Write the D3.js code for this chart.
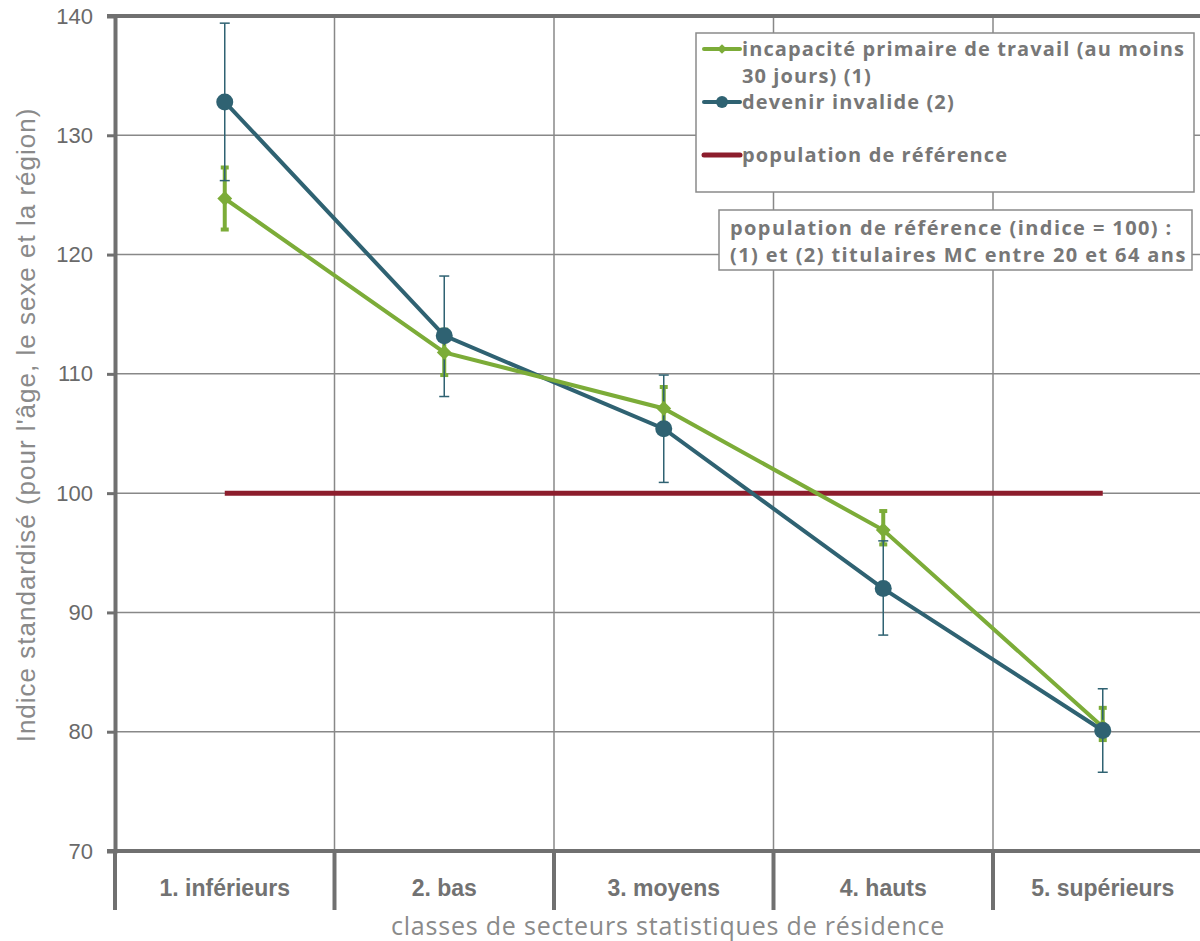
<!DOCTYPE html>
<html>
<head>
<meta charset="utf-8">
<script src="https://cdn.jsdelivr.net/npm/d3@7"></script>
<style>
  body { margin: 0; background: #fff; }
  svg { display: block; }
</style>
</head>
<body>
<div id="chart"></div>
<script>
// categories and values
const categories = ["1. inférieurs", "2. bas", "3. moyens", "4. hauts", "5. supérieurs"];
const incapacite = [124.7, 111.8, 107.1, 96.9, 80.4];
const incapaciteLow = [122.1, 109.9, 105.3, 95.7, 79.3];
const incapaciteHigh = [127.3, 113.7, 108.9, 98.5, 82.0];
const invalide = [132.8, 113.2, 105.4, 92.0, 80.1];
const invalideLow = [126.2, 108.1, 100.9, 88.1, 76.6];
const invalideHigh = [139.4, 118.2, 109.9, 96.0, 83.6];
const reference = [100, 100, 100, 100, 100];
const yTicks = [70, 80, 90, 100, 110, 120, 130, 140];

const width = 1200,
      height = 941,
      margin = ({ top: 16, left: 115, bottom: 90 });

const green = "#7cac38",
      blue = "#2f6272",
      red = "#8c1d2c",
      axisGrey = "#707070",
      textGrey = "#777";

let svg = d3.select("#chart")
    .append("svg")
    .attr("width", width)
    .attr("height", height);

let x = d3.scaleBand()
    .domain(categories)
    .range([margin.left, margin.left + 5 * 219.5]) // right edge runs off the picture
    .padding(0);

let y = d3.scaleLinear()
    .domain([70, 140])
    .range([height - margin.bottom, margin.top]);

const cx = d => x(d) + x.bandwidth() / 2;

// grid
svg.append("g")
    .selectAll("line")
    .data(yTicks.slice(1))
    .join("line")
    .attr("x1", margin.left)
    .attr("x2", width)
    .attr("y1", d => y(d))
    .attr("y2", d => y(d))
    .attr("stroke", "#888")
    .attr("stroke-width", 1.5);

svg.append("g")
    .selectAll("line")
    .data(categories.slice(1))
    .join("line")
    .attr("x1", d => x(d))
    .attr("x2", d => x(d))
    .attr("y1", y(140))
    .attr("y2", y(70))
    .attr("stroke", "#888")
    .attr("stroke-width", 1.5);

// top border
svg.append("line")
    .attr("x1", margin.left - 8).attr("x2", width)
    .attr("y1", y(140)).attr("y2", y(140))
    .attr("stroke", axisGrey).attr("stroke-width", 4);

// y axis
let yAxis = svg.append("g")
    .attr("transform", `translate(${margin.left},0)`)
    .call(d3.axisLeft(y).tickValues(yTicks).tickSize(8).tickPadding(14));
yAxis.select(".domain").attr("stroke", axisGrey).attr("stroke-width", 4);
yAxis.selectAll(".tick line").attr("stroke", axisGrey).attr("stroke-width", 3);
yAxis.selectAll(".tick text")
    .attr("fill", "#6a6a6a")
    .style("font-family", "'Liberation Sans', Arial, sans-serif")
    .style("font-size", "22px");

// x axis: baseline with category dividers
svg.append("line")
    .attr("x1", margin.left - 8).attr("x2", width)
    .attr("y1", y(70)).attr("y2", y(70))
    .attr("stroke", axisGrey).attr("stroke-width", 4);

svg.append("g")
    .selectAll("line")
    .data(categories)
    .join("line")
    .attr("x1", d => x(d))
    .attr("x2", d => x(d))
    .attr("y1", y(70))
    .attr("y2", y(70) + 59)
    .attr("stroke", axisGrey)
    .attr("stroke-width", 4);

svg.append("g")
    .selectAll("text")
    .data(categories)
    .join("text")
    .attr("x", d => cx(d))
    .attr("y", y(70) + 45)
    .attr("text-anchor", "middle")
    .attr("fill", "#727272")
    .style("font-family", "'Liberation Sans', Arial, sans-serif")
    .style("font-weight", "bold")
    .style("font-size", "23px")
    .text(d => d);

// axis titles
svg.append("text")
    .attr("x", 668)
    .attr("y", 935)
    .attr("text-anchor", "middle")
    .attr("fill", "#8a8a8a")
    .style("font-family", "'Open Sans', sans-serif")
    .style("font-size", "25px")
    .style("letter-spacing", "0.8px")
    .text("classes de secteurs statistiques de résidence");

svg.append("text")
    .attr("transform", `translate(35,425) rotate(-90)`)
    .attr("text-anchor", "middle")
    .attr("fill", "#8a8a8a")
    .style("font-family", "'Liberation Sans', Arial, sans-serif")
    .style("font-size", "26px")
    .style("letter-spacing", "1px")
    .text("Indice standardisé (pour l'âge, le sexe et la région)");

// reference line
svg.append("path")
    .datum(reference)
    .attr("fill", "none")
    .attr("stroke", red)
    .attr("stroke-width", 5)
    .attr("d", d3.line().x((d, i) => cx(categories[i])).y(d => y(d)));

// error bars
function errorBars(low, high, color, w, cap) {
    let g = svg.append("g").attr("stroke", color).attr("stroke-width", w);
    g.selectAll(".v").data(categories).join("line")
        .attr("x1", d => cx(d)).attr("x2", d => cx(d))
        .attr("y1", (d, i) => y(low[i])).attr("y2", (d, i) => y(high[i]));
    g.selectAll(".lo").data(categories).join("line")
        .attr("x1", d => cx(d) - cap).attr("x2", d => cx(d) + cap)
        .attr("y1", (d, i) => y(low[i])).attr("y2", (d, i) => y(low[i]));
    g.selectAll(".hi").data(categories).join("line")
        .attr("x1", d => cx(d) - cap).attr("x2", d => cx(d) + cap)
        .attr("y1", (d, i) => y(high[i])).attr("y2", (d, i) => y(high[i]));
}

errorBars(incapaciteLow, incapaciteHigh, green, 4, 4);
errorBars(invalideLow, invalideHigh, blue, 1.5, 5);

// series lines
const line = d3.line().x((d, i) => cx(categories[i])).y(d => y(d));

svg.append("path")
    .datum(invalide)
    .attr("fill", "none")
    .attr("stroke", blue)
    .attr("stroke-width", 4)
    .attr("d", line);

svg.append("path")
    .datum(incapacite)
    .attr("fill", "none")
    .attr("stroke", green)
    .attr("stroke-width", 4)
    .attr("d", line);

svg.append("g")
    .selectAll("path")
    .data(incapacite)
    .join("path")
    .attr("transform", (d, i) => `translate(${cx(categories[i])},${y(d)})`)
    .attr("d", d3.symbol(d3.symbolDiamond2, 140))
    .attr("fill", green);

svg.append("g")
    .selectAll("circle")
    .data(invalide)
    .join("circle")
    .attr("cx", (d, i) => cx(categories[i]))
    .attr("cy", d => y(d))
    .attr("r", 8.5)
    .attr("fill", blue);

// legend
const legendFont = "'Open Sans', sans-serif";
let legend = svg.append("g");
legend.append("rect")
    .attr("x", 696).attr("y", 33)
    .attr("width", 498).attr("height", 159)
    .attr("fill", "#fff")
    .attr("stroke", "#8a8a8a")
    .attr("stroke-width", 1.5);

const legendItems = [
    { lines: ["incapacité primaire de travail (au moins", "30 jours) (1)"], color: green, mark: "diamond", y: 49 },
    { lines: ["devenir invalide (2)"], color: blue, mark: "circle", y: 102 },
    { lines: ["population de référence"], color: red, mark: null, y: 155 }
];

legendItems.forEach(it => {
    legend.append("line")
        .attr("x1", 704).attr("x2", 740)
        .attr("y1", it.y).attr("y2", it.y)
        .attr("stroke", it.color)
        .attr("stroke-width", it.mark === null ? 5 : 4)
        .attr("stroke-linecap", "round");
    if (it.mark === "diamond") {
        legend.append("path")
            .attr("transform", `translate(722,${it.y})`)
            .attr("d", d3.symbol(d3.symbolDiamond2, 60))
            .attr("fill", it.color);
    } else if (it.mark === "circle") {
        legend.append("circle")
            .attr("cx", 722).attr("cy", it.y).attr("r", 6)
            .attr("fill", it.color);
    }
    it.lines.forEach((t, k) => {
        legend.append("text")
            .attr("x", 742)
            .attr("y", it.y + 7 + k * 27)
            .attr("fill", textGrey)
            .style("font-family", legendFont)
            .style("font-weight", "bold")
            .style("font-size", "20px")
            .style("letter-spacing", "1.1px")
            .text(t);
    });
});

// note box
legend.append("rect")
    .attr("x", 719).attr("y", 210)
    .attr("width", 473).attr("height", 60)
    .attr("fill", "#fff")
    .attr("stroke", "#8a8a8a")
    .attr("stroke-width", 1.5);

["population de référence (indice = 100) :", "(1) et (2) titulaires MC entre 20 et 64 ans"].forEach((t, k) => {
    legend.append("text")
        .attr("x", 730)
        .attr("y", 235 + k * 27)
        .attr("fill", textGrey)
        .style("font-family", legendFont)
        .style("font-weight", "bold")
        .style("font-size", "20px")
        .style("letter-spacing", "1.4px")
        .text(t);
});
</script>
</body>
</html>
